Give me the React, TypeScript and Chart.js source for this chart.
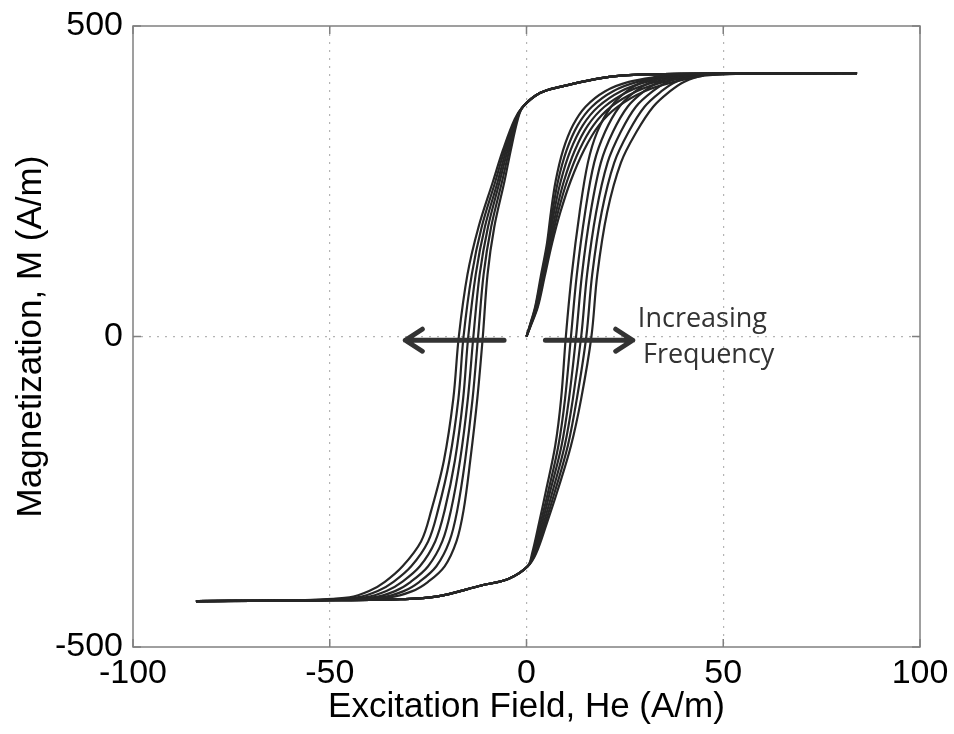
import React, { useEffect, useRef } from 'react';
import { Chart, registerables } from 'chart.js';
Chart.register(...registerables);

const X_TICKS = [-100, -50, 0, 50, 100];
const Y_TICKS = [-500, 0, 500];

// Descending branches: shared M levels, H read for each loop (inner -> outer)
const descM = [424, 423.5, 422, 418, 402, 392, 370, 350, 300, 250, 176, 100, 0, -100, -200, -280, -330, -370, -395, -410, -420, -425, -426];
const descH1 = [84, 50, 30, 21, 8.5, 3.4, -0.9, -2.2, -4.0, -5.6, -8.2, -9.9, -11.1, -12.5, -14.3, -16.0, -17.8, -20.8, -25.0, -29.0, -35.0, -55, -84];
const descH2 = [84, 50, 30, 21, 8.5, 3.4, -0.9, -2.4, -4.4, -6.2, -9.0, -10.9, -12.3, -13.7, -15.6, -17.6, -19.6, -22.9, -27.2, -31.2, -37.0, -56, -84];
const descH3 = [84, 50, 30, 21, 8.5, 3.4, -0.9, -2.5, -4.8, -6.8, -9.8, -11.9, -13.5, -14.9, -16.9, -19.2, -21.4, -25.0, -29.4, -33.4, -39.0, -57, -84];
const descH4 = [84, 50, 30, 21, 8.5, 3.4, -0.9, -2.7, -5.2, -7.3, -10.6, -12.9, -14.8, -16.1, -18.2, -20.8, -23.2, -27.1, -31.6, -35.6, -41.0, -58, -84];
const descH5 = [84, 50, 30, 21, 8.5, 3.4, -0.9, -2.8, -5.6, -7.9, -11.4, -13.9, -16.0, -17.3, -19.6, -22.5, -25.0, -29.3, -33.8, -37.8, -43.0, -59, -84];
const descH6 = [84, 50, 30, 21, 8.5, 3.4, -0.9, -3.0, -6.0, -8.5, -12.2, -15.0, -17.2, -18.6, -21.0, -24.2, -26.8, -31.5, -36.0, -40.0, -45.0, -60, -84];

// Ascending branches
const ascM = [-426, -425, -423, -419, -401, -390, -370, -350, -300, -250, -176, -100, 0, 100, 200, 280, 330, 370, 395, 410, 420, 423.5, 424];
const ascH1 = [-84, -55, -32, -23, -11.5, -4.5, 0.3, 1.4, 3.2, 4.9, 7.3, 8.8, 10.0, 11.5, 13.5, 15.6, 18.0, 21.5, 25.5, 29.5, 35.0, 55, 84];
const ascH2 = [-84, -55, -32, -23, -11.5, -4.5, 0.3, 1.6, 3.6, 5.5, 8.1, 9.8, 11.3, 12.8, 14.9, 17.2, 20.0, 23.6, 27.7, 31.6, 37.0, 56, 84];
const ascH3 = [-84, -55, -32, -23, -11.5, -4.5, 0.3, 1.8, 4.0, 6.0, 8.9, 10.8, 12.6, 14.1, 16.3, 18.9, 22.0, 25.7, 29.9, 33.7, 39.0, 57, 84];
const ascH4 = [-84, -55, -32, -23, -11.5, -4.5, 0.3, 2.0, 4.4, 6.6, 9.7, 11.8, 13.9, 15.4, 17.7, 20.6, 24.0, 27.8, 32.1, 35.8, 41.0, 58, 84];
const ascH5 = [-84, -55, -32, -23, -11.5, -4.5, 0.3, 2.2, 4.8, 7.2, 10.5, 12.8, 15.2, 16.7, 19.1, 22.3, 26.0, 30.0, 34.3, 37.9, 43.0, 59, 84];
const ascH6 = [-84, -55, -32, -23, -11.5, -4.5, 0.3, 2.4, 5.2, 7.8, 11.3, 13.9, 16.5, 18.0, 20.5, 24.0, 28.0, 32.2, 36.5, 40.0, 45.0, 60, 84];

// Initial magnetization curves
const virM = [0, 16, 48, 96, 150, 200, 250, 300, 340, 370, 395, 410, 420];
const virH1 = [0, 0.75, 2.2, 3.6, 5.2, 6.2, 7.4, 9.3, 11.8, 15.0, 20.0, 26.0, 35.0];
const virH2 = [0, 0.8, 2.3, 3.8, 5.4, 6.6, 8.0, 10.2, 13.0, 16.6, 22.0, 28.2, 37.0];
const virH3 = [0, 0.85, 2.45, 4.0, 5.6, 7.0, 8.7, 11.2, 14.3, 18.2, 24.0, 30.5, 39.0];
const virH4 = [0, 0.9, 2.6, 4.2, 5.9, 7.5, 9.5, 12.3, 15.6, 19.8, 26.0, 32.8, 41.0];
const virH5 = [0, 0.95, 2.75, 4.4, 6.2, 8.0, 10.3, 13.4, 17.0, 21.5, 28.0, 35.0, 43.0];
const virH6 = [0, 1.0, 2.9, 4.6, 6.5, 8.6, 11.2, 14.6, 18.4, 23.2, 30.0, 37.5, 45.0];

const DESC_H = [descH1, descH2, descH3, descH4, descH5, descH6];
const ASC_H = [ascH1, ascH2, ascH3, ascH4, ascH5, ascH6];
const VIR_H = [virH1, virH2, virH3, virH4, virH5, virH6];

const LINE_COLOR = '#262626';
const TICK_FONT = { family: '"Liberation Sans", Arial, sans-serif', size: 34 };
const TITLE_FONT = { family: '"Liberation Sans", Arial, sans-serif', size: 35 };

function zip(hs: number[], ms: number[]) {
  return hs.map((h, i) => ({ x: h, y: ms[i] }));
}

const annotPlugin = {
  id: 'annot',
  afterDraw(chart: any) {
    const { ctx, chartArea: a, scales } = chart;
    const xs = scales.x, ys = scales.y;
    ctx.save();
    // box
    ctx.strokeStyle = '#808080';
    ctx.lineWidth = 1.5;
    ctx.strokeRect(a.left, a.top, a.right - a.left, a.bottom - a.top);
    // inward tick marks
    const tl = 8;
    ctx.beginPath();
    X_TICKS.forEach((v) => {
      const px = xs.getPixelForValue(v);
      ctx.moveTo(px, a.bottom); ctx.lineTo(px, a.bottom - tl);
      ctx.moveTo(px, a.top); ctx.lineTo(px, a.top + tl);
    });
    Y_TICKS.forEach((v) => {
      const py = ys.getPixelForValue(v);
      ctx.moveTo(a.left, py); ctx.lineTo(a.left + tl, py);
      ctx.moveTo(a.right, py); ctx.lineTo(a.right - tl, py);
    });
    ctx.stroke();

    // arrows
    ctx.strokeStyle = '#333333';
    ctx.lineWidth = 5;
    ctx.lineCap = 'round';
    ctx.lineJoin = 'round';
    const arrow = (h0: number, h1: number, m: number) => {
      const x0 = xs.getPixelForValue(h0), x1 = xs.getPixelForValue(h1), yy = ys.getPixelForValue(m);
      const dir = Math.sign(x1 - x0);
      ctx.beginPath();
      ctx.moveTo(x0, yy); ctx.lineTo(x1, yy);
      ctx.moveTo(x1 - dir * 17, yy - 11); ctx.lineTo(x1, yy); ctx.lineTo(x1 - dir * 17, yy + 11);
      ctx.stroke();
    };
    arrow(-5.7, -30.8, -6);
    arrow(4.8, 27, -6);

    ctx.fillStyle = '#333333';
    ctx.font = '27px "Open Sans", "Noto Sans", sans-serif';
    ctx.textBaseline = 'alphabetic';
    ctx.textAlign = 'left';
    ctx.fillText('Increasing', xs.getPixelForValue(28.3), ys.getPixelForValue(15.3));
    ctx.fillText('Frequency', xs.getPixelForValue(29.6), ys.getPixelForValue(-42.7));
    ctx.restore();
  },
};

export default function App() {
  const ref = useRef<HTMLCanvasElement | null>(null);
  useEffect(() => {
    if (!ref.current) return;
    const datasets: any[] = [];
    const base = {
      showLine: true,
      borderColor: LINE_COLOR,
      borderWidth: 2.2,
      pointRadius: 0,
      tension: 0.35,
      fill: false,
    };
    for (let i = 0; i < 6; i++) {
      datasets.push({ ...base, label: `desc${i + 1}`, data: zip(DESC_H[i], descM) });
      datasets.push({ ...base, label: `asc${i + 1}`, data: zip(ASC_H[i], ascM) });
      datasets.push({ ...base, label: `virgin${i + 1}`, data: zip(VIR_H[i], virM) });
    }
    const chart = new Chart(ref.current, {
      type: 'scatter',
      data: { datasets },
      plugins: [annotPlugin],
      options: {
        animation: false,
        responsive: false,
        layout: { padding: { top: 26, right: 34, left: 0, bottom: 0 } },
        plugins: { legend: { display: false }, tooltip: { enabled: false } },
        scales: {
          x: {
            type: 'linear',
            min: -100,
            max: 100,
            afterFit: (s: any) => { s.height = 87; s.paddingLeft = 0; s.paddingRight = 0; },
            afterBuildTicks: (s: any) => { s.ticks = X_TICKS.map((v) => ({ value: v })); },
            ticks: { font: TICK_FONT, color: '#000', padding: 6, maxRotation: 0, callback: (v: any) => String(v) },
            grid: {
              drawTicks: false,
              color: (c: any) => (Math.abs(c.tick?.value) < 100 ? '#b4b4b4' : 'transparent'),
              lineWidth: 1.2,
            },
            border: { display: false, dash: [2, 6] },
            title: { display: true, text: 'Excitation Field, He (A/m)', font: TITLE_FONT, color: '#000', padding: { bottom: 6, top: 0 } },
          },
          y: {
            type: 'linear',
            min: -500,
            max: 500,
            afterFit: (s: any) => { s.width = 133; s.paddingTop = 0; s.paddingBottom = 0; },
            afterBuildTicks: (s: any) => { s.ticks = Y_TICKS.map((v) => ({ value: v })); },
            ticks: { font: TICK_FONT, color: '#000', padding: 10, callback: (v: any) => String(v) },
            grid: {
              drawTicks: false,
              color: (c: any) => (Math.abs(c.tick?.value) < 500 ? '#b4b4b4' : 'transparent'),
              lineWidth: 1.2,
            },
            border: { display: false, dash: [2, 6] },
            title: { display: true, text: 'Magnetization, M (A/m)', font: TITLE_FONT, color: '#000', padding: { top: 10, bottom: 0 } },
          },
        },
      },
    } as any);
    return () => chart.destroy();
  }, []);
  return (
    <div style={{ position: 'absolute', left: 0, top: 0, width: 954, height: 734, background: '#fff' }}>
      <canvas ref={ref} width={954} height={734} style={{ display: 'block' }} />
    </div>
  );
}
